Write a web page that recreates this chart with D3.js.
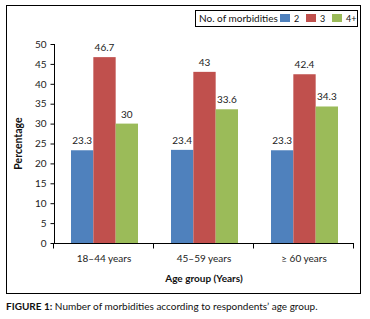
<!DOCTYPE html>
<html>
<head>
<meta charset="utf-8">
<script src="https://cdn.jsdelivr.net/npm/d3@7"></script>
<style>
  body { margin: 0; background: #fff; }
  svg { display: block; font-family: Lato, "Open Sans", sans-serif; }
</style>
</head>
<body>
<div id="chart"></div>
<script>
const groups = ["18\u201344 years", "45\u201359 years", "\u2265 60 years"];
const seriesNames = ["2", "3", "4+"];
const seriesColors = ["#4f81bd", "#c0504d", "#9bbb59"];
const values2 = [23.3, 23.4, 23.3];
const values3 = [46.7, 43, 42.4];
const values4 = [30, 33.6, 34.3];
const yTicks = [0, 5, 10, 15, 20, 25, 30, 35, 40, 45, 50];

const series = [values2, values3, values4];

const width = 370, height = 319;
const svg = d3.select("#chart").append("svg")
    .attr("width", width)
    .attr("height", height);

// frame
svg.append("rect")
    .attr("x", 6.5).attr("y", 5.5)
    .attr("width", 354).attr("height", 288)
    .attr("fill", "none")
    .attr("stroke", "#000")
    .attr("stroke-width", 1);

const x0 = d3.scaleBand().domain(groups).range([54, 354]).paddingInner(0).paddingOuter(0);
const x1 = d3.scaleBand().domain(seriesNames).range([17, 84]);
const y = d3.scaleLinear().domain([0, 50]).range([243, 44]);

// y axis
const yAxis = svg.append("g")
    .attr("transform", "translate(54.5,0)")
    .call(d3.axisLeft(y).tickValues(yTicks).tickSize(5).tickPadding(3));
yAxis.select(".domain").attr("d", "M0," + y(50) + "V" + y(0)).attr("stroke", "#000");
yAxis.selectAll(".tick line").attr("x2", -4).attr("stroke", "#000");
yAxis.selectAll("text").attr("font-size", "10px").attr("fill", "#222").attr("font-family", "Lato, sans-serif");

// x axis
const xAxis = svg.append("g").attr("transform", "translate(0," + (y(0) + 0.5) + ")");
xAxis.append("line").attr("x1", 54).attr("x2", 354).attr("stroke", "#000");
[54, 154, 254, 354].forEach(function(t) {
    xAxis.append("line").attr("x1", t - 0.5).attr("x2", t - 0.5).attr("y1", 0).attr("y2", 5).attr("stroke", "#000");
});
groups.forEach(function(g) {
    xAxis.append("text")
        .attr("x", x0(g) + x0.bandwidth() / 2)
        .attr("y", 18)
        .attr("text-anchor", "middle")
        .attr("font-size", "10px")
        .attr("fill", "#222")
        .text(g);
});

// bars
const barData = [];
groups.forEach(function(g, gi) {
    seriesNames.forEach(function(s, si) {
        barData.push({group: g, s: s, color: seriesColors[si], v: series[si][gi]});
    });
});

svg.append("g").selectAll("rect")
    .data(barData)
    .join("rect")
    .attr("x", function(d) { return x0(d.group) + x1(d.s); })
    .attr("y", function(d) { return y(d.v); })
    .attr("width", x1.bandwidth())
    .attr("height", function(d) { return y(0) - y(d.v); })
    .attr("fill", function(d) { return d.color; });

svg.append("g").selectAll("text")
    .data(barData)
    .join("text")
    .attr("x", function(d) { return x0(d.group) + x1(d.s) + x1.bandwidth() / 2; })
    .attr("y", function(d) { return y(d.v) - 6; })
    .attr("text-anchor", "middle")
    .attr("font-size", "10px")
    .attr("fill", "#222")
    .text(function(d) { return d.v; });

// axis titles
svg.append("text")
    .attr("transform", "translate(22," + ((y(0) + y(50)) / 2) + ") rotate(-90)")
    .attr("text-anchor", "middle")
    .attr("font-size", "10.5px")
    .attr("font-weight", "bold")
    .attr("fill", "#111")
    .text("Percentage");

svg.append("text")
    .attr("x", 204).attr("y", 282)
    .attr("text-anchor", "middle")
    .attr("font-size", "10px")
    .attr("font-weight", "bold")
    .attr("fill", "#111")
    .text("Age group (Years)");

// legend
const lg = svg.append("g");
lg.append("rect")
    .attr("x", 195.5).attr("y", 10.5)
    .attr("width", 162).attr("height", 16)
    .attr("fill", "#fff").attr("stroke", "#000");
lg.append("text")
    .attr("x", 199).attr("y", 22)
    .attr("font-size", "10px").attr("fill", "#111")
    .text("No. of morbidities");
const lgX = [280, 306, 332];
seriesNames.forEach(function(s, i) {
    lg.append("rect").attr("x", lgX[i]).attr("y", 14).attr("width", 10).attr("height", 8).attr("fill", seriesColors[i]);
    lg.append("text").attr("x", lgX[i] + 14).attr("y", 21.5).attr("font-size", "9px").attr("fill", "#111").text(s);
});

// caption
const cap = svg.append("text")
    .attr("x", 6).attr("y", 310)
    .attr("font-size", "10px").attr("fill", "#111");
cap.append("tspan").attr("font-weight", "bold").text("FIGURE 1:");
cap.append("tspan").text(" Number of morbidities according to respondents\u2019 age group.");
</script>
</body>
</html>
